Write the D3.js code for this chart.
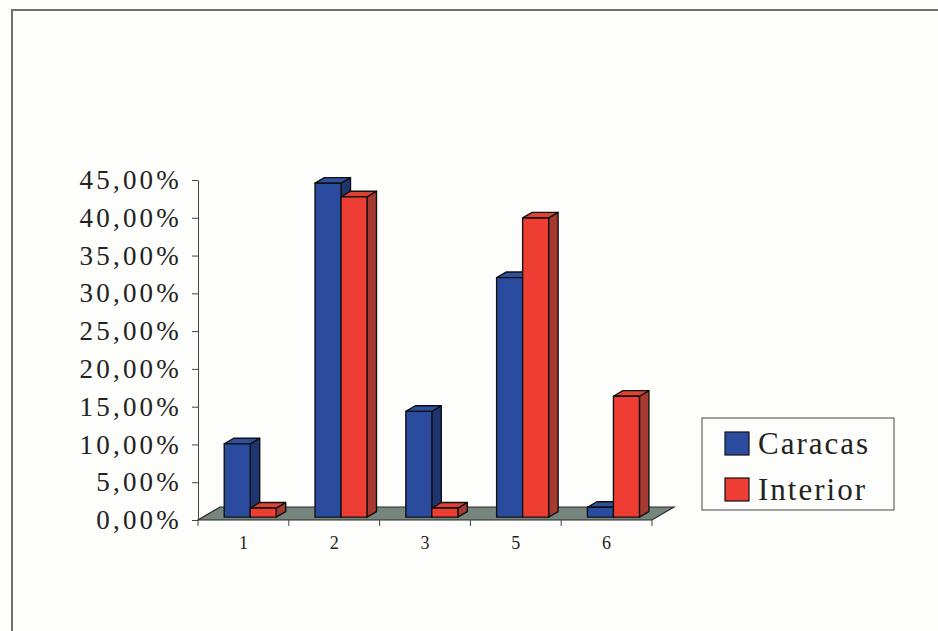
<!DOCTYPE html>
<html>
<head>
<meta charset="utf-8">
<script src="https://cdn.jsdelivr.net/npm/d3@7"></script>
<style>
  html, body { margin: 0; padding: 0; background: #fdfdfb; }
  svg { display: block; font-family: "Liberation Serif", "Times New Roman", serif; }
</style>
</head>
<body>
<div id="chart"></div>
<script>
// Données
const categories = ["1", "2", "3", "5", "6"];
const series = ["Caracas", "Interior"];
const caracas = [9.7, 44.2, 14.0, 31.7, 1.3];
const interior = [1.2, 42.4, 1.2, 39.6, 16.0];
const yTicks = [0, 5, 10, 15, 20, 25, 30, 35, 40, 45];

const W = 938, H = 631;

// couleurs : face, côté, dessus
const colors = {
    Caracas: { front: "#2b4c9e", side: "#1e3572", top: "#2f509c" },
    Interior: { front: "#ee3d33", side: "#a63a31", top: "#dd4232" }
};

// profondeur (perspective oblique)
const depth = { dx: 22, dy: -13 };
const tFront = 0.22, tBack = 0.65;

const svg = d3.select("#chart").append("svg")
    .attr("width", W)
    .attr("height", H);

// cadre extérieur
svg.append("rect")
    .attr("x", 12).attr("y", 10)
    .attr("width", W + 20).attr("height", H + 20)
    .attr("fill", "none")
    .attr("stroke", "#6f6f6f")
    .attr("stroke-width", 2);

// échelles
const x = d3.scaleBand()
    .domain(categories)
    .range([198, 652]);

const xs = d3.scaleBand()
    .domain(series)
    .range([0, 52]);

const y = d3.scaleLinear()
    .domain([0, 45])
    .range([520, 180]);

// sol
const fl = [
    [x.range()[0], y(0)],
    [x.range()[1], y(0)],
    [x.range()[1] + depth.dx, y(0) + depth.dy],
    [x.range()[0] + depth.dx, y(0) + depth.dy]
];
svg.append("polygon")
    .attr("points", fl.map(p => p.join(",")).join(" "))
    .attr("fill", "#76857d")
    .attr("stroke", "#2a2a2a")
    .attr("stroke-width", 1.2);

// axe Y
const fmt = v => v.toFixed(2).replace(".", ",") + "%";
const yAxis = svg.append("g")
    .attr("transform", "translate(198,0)")
    .call(d3.axisLeft(y).tickValues(yTicks).tickSize(6).tickSizeOuter(0).tickFormat(fmt));
yAxis.select(".domain").attr("stroke", "#444");
yAxis.selectAll(".tick line").attr("stroke", "#444");
yAxis.selectAll(".tick text")
    .attr("x", -16)
    .attr("font-family", "'Liberation Serif', 'Times New Roman', serif")
    .attr("font-size", 27)
    .attr("letter-spacing", "3.2px")
    .attr("fill", "#222");

// axe X (graduations entre catégories)
const bounds = categories.map(c => x(c)).concat([x.range()[1]]);
svg.selectAll(".xtick")
    .data(bounds)
    .enter().append("line")
    .attr("class", "xtick")
    .attr("x1", d => d).attr("x2", d => d)
    .attr("y1", y(0)).attr("y2", y(0) + 6)
    .attr("stroke", "#444");

svg.selectAll(".xlabel")
    .data(categories)
    .enter().append("text")
    .attr("class", "xlabel")
    .attr("x", d => x(d) + x.bandwidth() / 2)
    .attr("y", y(0) + 29)
    .attr("text-anchor", "middle")
    .attr("font-size", 18)
    .attr("fill", "#222")
    .text(d => d);

// barres 3D
const fx = depth.dx * tFront, fy = depth.dy * tFront;
const bx = depth.dx * tBack, by = depth.dy * tBack;
const bars = [];
categories.forEach((c, i) => {
    bars.push({ cat: c, s: "Caracas", v: caracas[i] });
    bars.push({ cat: c, s: "Interior", v: interior[i] });
});

const pts = arr => arr.map(p => p.join(",")).join(" ");

bars.forEach(d => {
    const x0 = x(d.cat) + (x.bandwidth() - 52) / 2 + 2 + xs(d.s);
    const w = xs.bandwidth();
    const yv = y(d.v), y0 = y(0);
    const c = colors[d.s];
    const g = svg.append("g").attr("stroke", "#111").attr("stroke-width", 1.4).attr("stroke-linejoin", "round");
    // côté
    g.append("polygon")
        .attr("points", pts([[x0 + w + fx, yv + fy], [x0 + w + bx, yv + by], [x0 + w + bx, y0 + by], [x0 + w + fx, y0 + fy]]))
        .attr("fill", c.side);
    // dessus
    g.append("polygon")
        .attr("points", pts([[x0 + fx, yv + fy], [x0 + w + fx, yv + fy], [x0 + w + bx, yv + by], [x0 + bx, yv + by]]))
        .attr("fill", c.top);
    // face
    g.append("rect")
        .attr("x", x0 + fx)
        .attr("y", yv + fy)
        .attr("width", w)
        .attr("height", y0 - yv)
        .attr("fill", c.front);
});

// légende
const lg = svg.append("g").attr("transform", "translate(702,418)");
lg.append("rect")
    .attr("width", 192).attr("height", 92)
    .attr("fill", "none")
    .attr("stroke", "#666")
    .attr("stroke-width", 1.2);

const li = lg.selectAll(".li")
    .data(series)
    .enter().append("g")
    .attr("transform", (d, i) => "translate(23," + (14 + i * 46) + ")");
li.append("rect")
    .attr("width", 24).attr("height", 23)
    .attr("fill", d => colors[d].front)
    .attr("stroke", "#111")
    .attr("stroke-width", 1.2);
li.append("text")
    .attr("x", 33)
    .attr("y", 22)
    .attr("font-size", 31)
    .attr("letter-spacing", "2px")
    .attr("fill", "#222")
    .text(d => d);
</script>
</body>
</html>
